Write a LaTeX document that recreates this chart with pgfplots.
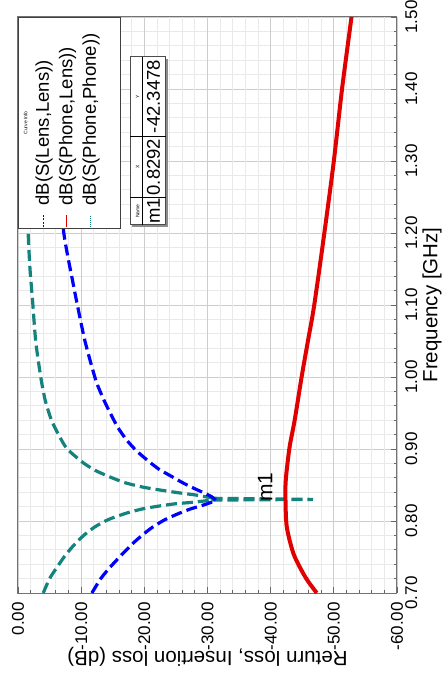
\documentclass[border=0pt]{standalone}
\usepackage{pgfplots}
\pgfplotsset{compat=1.18}
\usepackage{fontspec}
\setmainfont{Liberation Sans}
\usetikzlibrary{shadows}
\definecolor{myred}{RGB}{225,0,0}
\definecolor{myblue}{RGB}{0,0,255}
\definecolor{myteal}{RGB}{20,130,125}
\definecolor{gmaj}{RGB}{205,205,205}
\definecolor{gmin}{RGB}{233,233,233}
\begin{document}
\begin{tikzpicture}[rotate=90, transform shape]
\begin{axis}[
  scale only axis, width=576pt, height=379pt,
  xmin=0.7, xmax=1.5, ymin=-60, ymax=0,
  xtick={0.7,0.8,0.9,1.0,1.1,1.2,1.3,1.4,1.5},
  ytick={-60,-50,-40,-30,-20,-10,0},
  minor x tick num=4, minor y tick num=4,
  grid=both,
  major grid style={draw=gmaj, line width=0.8pt},
  minor grid style={draw=gmin, line width=0.8pt},
  axis line style={draw=black!55, line width=1pt},
  tick align=inside, tick pos=left,
  major tick length=6pt, minor tick length=3pt,
  every tick/.style={black!60, line width=0.8pt},
  /pgf/number format/fixed, /pgf/number format/fixed zerofill,
  /pgf/number format/precision=2, /pgf/number format/assume math mode=true,
  tick label style={font=\fontsize{17}{20}\selectfont},
  xticklabel style={inner sep=0pt, yshift=-8pt},
  yticklabel style={inner sep=0pt, xshift=-9pt},
  label style={font=\fontsize{20.5}{24}\selectfont},
  xlabel={Frequency [GHz]},
  ylabel={Return loss, Insertion loss (dB)},
  xlabel style={at={(axis description cs:0.5,-0.0923)}, anchor=center},
  ylabel style={at={(axis description cs:-0.1111,0.5)}, anchor=center},
  clip=false,
  legend style={at={(rel axis cs:1,1)}, anchor=north east, draw=black!75,
    line width=0.8pt, fill=white, font=\fontsize{18.5}{22}\selectfont,
    inner sep=0pt, row sep=0pt, column sep=0pt,
    nodes={inner sep=0pt, text depth=, text height=},
    cells={anchor=west}},
  legend image code/.code={%
    \draw[#1] (1pt,0pt) -- (13pt,0pt);%
    \pgfpathrectangle{\pgfpoint{0pt}{-0.6pt}}{\pgfpoint{23pt}{1.2pt}}%
    \pgfusepath{discard}},
]
\addlegendimage{empty legend}
\addlegendentry{\makebox[165pt][c]{\rule[-4pt]{0pt}{13pt}\tiny Curve Info}\makebox[23pt]{}}
\addlegendimage{myblue, line width=1.2pt, dash pattern=on 2pt off 1.5pt}
\addlegendentry{\makebox[188pt][l]{\rule[-6pt]{0pt}{23.5pt}dB(S(Lens,Lens))}}
\addlegendimage{myred, line width=1.2pt}
\addlegendentry{\makebox[188pt][l]{\rule[-6pt]{0pt}{23.5pt}dB(S(Phone,Lens))}}
\addlegendimage{myteal, line width=1.2pt, dash pattern=on 1pt off 1pt}
\addlegendentry{\makebox[188pt][l]{\rule[-6pt]{0pt}{23.5pt}dB(S(Phone,Phone))}}
\addlegendimage{empty legend}
\addlegendentry{\makebox[188pt][l]{\rule[-4pt]{0pt}{18.5pt}}}

% S(Phone,Phone) - lower branch
\addplot[myteal, line width=3.2pt, dash pattern=on 11pt off 5pt, smooth, tension=0.4, forget plot] coordinates {
(0.700,-4.0) (0.720,-5.0) (0.736,-6.2) (0.750,-7.3) (0.764,-8.6) (0.780,-10.4)
(0.792,-12.2) (0.802,-14.3) (0.811,-17.2) (0.817,-19.8) (0.821,-22.5) (0.824,-25.0)
(0.826,-27.7) (0.829,-30.6)};
% notch
\addplot[myteal, line width=3.2pt, dash pattern=on 11pt off 5pt, forget plot] coordinates {
(0.829,-30.6) (0.8300,-46.7) (0.8315,-31.0)};
% upper branch
\addplot[myteal, line width=3.2pt, dash pattern=on 11pt off 5pt, smooth, tension=0.4, forget plot] coordinates {
(0.8315,-31.0) (0.836,-28.2) (0.839,-25.6)
(0.843,-22.5) (0.847,-19.8) (0.853,-17.0) (0.861,-14.6) (0.870,-12.3) (0.881,-10.3)
(0.900,-7.8) (0.917,-6.6) (0.940,-5.3) (0.968,-4.3) (1.000,-3.6) (1.050,-2.8)
(1.107,-2.3) (1.150,-1.9) (1.204,-1.6) (1.300,-1.45) (1.400,-1.35) (1.500,-1.3)};
% S(Lens,Lens)
\addplot[myblue, line width=3.2pt, dash pattern=on 11pt off 5pt, smooth, tension=0.4, forget plot] coordinates {
(0.700,-11.7) (0.720,-13.1) (0.736,-14.6) (0.752,-16.3) (0.769,-18.2) (0.782,-19.9)
(0.792,-21.4) (0.802,-23.3) (0.811,-25.6) (0.817,-27.4) (0.822,-29.3) (0.826,-30.6)
(0.829,-31.3)};
\addplot[myblue, line width=3.2pt, dash pattern=on 11pt off 5pt, smooth, tension=0.4, forget plot] coordinates {
(0.829,-31.3) (0.834,-30.6) (0.840,-29.2) (0.846,-27.7) (0.853,-26.1) (0.861,-24.5)
(0.872,-22.3) (0.885,-20.4) (0.898,-18.7) (0.9125,-17.2) (0.930,-15.8) (0.950,-14.6)
(0.968,-13.6) (0.996,-12.3) (1.050,-10.6) (1.100,-9.4) (1.131,-8.7) (1.204,-7.2)
(1.300,-6.7) (1.400,-6.4) (1.500,-6.2)};
% S(Phone,Lens)
\addplot[myred, line width=4pt, smooth, forget plot] coordinates {
(0.700,-47.3) (0.714,-46.1) (0.728,-45.1) (0.755,-43.6) (0.792,-42.55) (0.8292,-42.3478)
(0.850,-42.35) (0.867,-42.5) (0.903,-43.0) (0.940,-43.8) (1.000,-44.9) (1.050,-45.9)
(1.100,-46.9) (1.200,-48.5) (1.300,-50.0) (1.400,-51.3) (1.500,-52.8)};

\node[anchor=base west, inner sep=0pt, font=\fontsize{21}{24}\selectfont, xshift=-2pt, yshift=13pt]
  at (axis cs:0.8292,-42.3478) {m1};

\node[anchor=north west, inner sep=0pt, draw=black!70, fill=white, line width=0.8pt,
  font=\fontsize{18.5}{22}\selectfont,
  drop shadow={shadow xshift=-2pt, shadow yshift=-2pt, fill=black!45, opacity=1}]
  at (axis cs:1.2111,-17.73) {\setlength{\tabcolsep}{0pt}\renewcommand{\arraystretch}{0}%
  \begin{tabular}{c|c|c}
  \makebox[27pt]{\rule[-3pt]{0pt}{12pt}\tiny Name} & \makebox[61pt]{\tiny X} & \makebox[80pt]{\tiny Y}\\ \hline
  \makebox[27pt]{\rule[-6pt]{0pt}{23pt}m1} & \makebox[61pt]{0.8292} & \makebox[80pt]{-42.3478}
  \end{tabular}};

\path (rel axis cs:-0.15625,-0.12137) rectangle (rel axis cs:1.02951,1.04749);
\end{axis}
\end{tikzpicture}
\end{document}
